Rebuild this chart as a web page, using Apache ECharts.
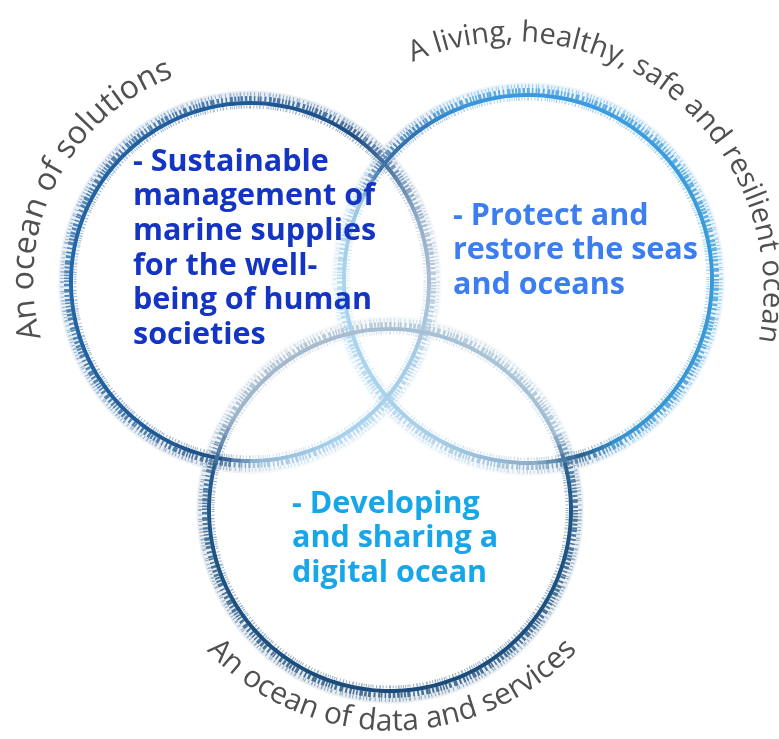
<!DOCTYPE html>
<html><head><meta charset="utf-8">
<script src="https://cdn.jsdelivr.net/npm/echarts@6/dist/echarts.min.js"></script>
<style>html,body{margin:0;padding:0;background:#fff}#main{width:779px;height:739px}</style>
</head><body><div id="main"></div>
<script>
// ---- data ----
const circleNames = ['An ocean of solutions', 'A living, healthy, safe and resilient ocean', 'An ocean of data and services'];
const circleCenterX = [250, 528, 390];
const circleCenterY = [282, 279, 510];
const circleRadius = [178, 183, 180];
const innerTexts = [
  ['- Sustainable', 'management of', 'marine supplies', 'for the well-', 'being of human', 'societies'],
  ['- Protect and', 'restore the seas', 'and oceans'],
  ['- Developing', 'and sharing a', 'digital ocean']
];
const curvedCenterX = [250, 513, 392];
const curvedCenterY = [280, 292, 476];
const curvedRadius = [226, 259, 246];
const curvedMidAngle = [207, 308.9, 90];
const curvedDirection = [1, 1, -1];

// ---- layout / style ----
const innerTextLeft = [133, 453, 292];
const innerTextFirstMid = [162, 216, 504];
const innerLineGap = 34.7;
const innerColors = ['#1434c4', '#3c7ef0', '#17a6e8'];
const innerFont = { fontFamily: '"Open Sans"', fontWeight: 'bold', fontSize: 30.5 };
const curvedFontSize = [32, 29, 30];
const curvedFont = { fontFamily: '"Open Sans"', fontWeight: 'normal', color: '#505050' };
const ringStops = [
  [[0,'#a9bfd3'],[30,'#a6cde8'],[60,'#a8d2ee'],[88,'#93b8d5'],[100,'#1e4f82'],[120,'#1f5a96'],[180,'#2567a6'],[270,'#1f5a98'],[305,'#1c4d85'],[325,'#5f84ab'],[340,'#94aec8'],[360,'#a9bfd3']],
  [[0,'#3a9ad8'],[60,'#3794d3'],[74,'#285f92'],[88,'#8aaecb'],[120,'#a7cde6'],[150,'#a9d3ee'],[180,'#a9d4ef'],[205,'#9cc5e1'],[218,'#3d72a8'],[232,'#2f74b5'],[250,'#3a96d9'],[300,'#3c9de0'],[360,'#3a9ad8']],
  [[0,'#1f5585'],[90,'#1a4a78'],[180,'#1f5585'],[193,'#2a5d8e'],[210,'#9db4c9'],[250,'#a9bccf'],[280,'#a7bfd2'],[310,'#a9c4d8'],[335,'#a0bcd2'],[346,'#2e6595'],[360,'#1f5585']]
];

function hexToRgb(h){ return [parseInt(h.substr(1,2),16), parseInt(h.substr(3,2),16), parseInt(h.substr(5,2),16)]; }
function rgbStr(c){ return 'rgb(' + c.map(v => Math.round(v)).join(',') + ')'; }
function colorAt(stops, a){
  a = ((a % 360) + 360) % 360;
  for (let k = 0; k < stops.length - 1; k++) {
    const s0 = stops[k], s1 = stops[k+1];
    if (a >= s0[0] && a <= s1[0]) {
      const t = (a - s0[0]) / (s1[0] - s0[0] || 1);
      const c0 = hexToRgb(s0[1]), c1 = hexToRgb(s1[1]);
      return c0.map((v, j) => v + (c1[j] - v) * t);
    }
  }
  return hexToRgb(stops[0][1]);
}
function mixWhite(c, t){ return c.map(v => v + (255 - v) * t); }
function lum(c){ return (0.299*c[0] + 0.587*c[1] + 0.114*c[2]) / 255; }

function renderRing(params, api){
  const i = api.value(3);
  const c = api.coord([api.value(0), api.value(1)]);
  const r = api.size([api.value(2), 0])[0];
  const children = [];
  const N = 120;
  for (let k = 0; k < N; k++) {
    const a0 = k * 360 / N, a1 = (k + 1) * 360 / N;
    const col = colorAt(ringStops[i], (a0 + a1) / 2);
    const dark = lum(col) < 0.55 ? 1 : 0;
    const s = a0 * Math.PI / 180, e = (a1 + 0.4) * Math.PI / 180;
    const base = {cx: c[0], cy: c[1], startAngle: s, endAngle: e, clockwise: true};
    const arc = (z2, dr, color, lw, dash) => children.push({type: 'arc', z2, shape: Object.assign({}, base, {r: r + dr}),
      style: {fill: 'none', stroke: rgbStr(color), lineWidth: lw, lineDash: dash || null}});
    // decorative texture pattern, varies with segment index
    const p1 = 1 + (k % 3) * 0.5, p2 = 1.3 + (k % 4) * 0.45;
    arc(1, 8, mixWhite(col, 0.9), 11);
    arc(2, 10, mixWhite(col, 0.5), 3.5, [1, p2 + 0.8]);
    arc(3 + dark, 5.5, mixWhite(col, 0.2), 5, [p1 + 0.6, p2]);
    arc(2, -3, mixWhite(col, 0.55), 3, [1, p2]);
    arc(5 + dark * 2, 1, col, 4);
  }
  return {type: 'group', children};
}

function renderInner(params, api){
  const i = api.value(2);
  const lines = innerTexts[i];
  const children = [];
  const gap = api.size([0, innerLineGap])[1];
  const p = api.coord([api.value(0), api.value(1)]);
  lines.forEach((ln, j) => {
    children.push({type: 'text', z2: 20, x: p[0], y: p[1] + j * gap,
      style: {text: ln, fill: innerColors[i], fontFamily: innerFont.fontFamily, fontWeight: innerFont.fontWeight,
        fontSize: innerFont.fontSize, align: 'left', verticalAlign: 'middle'}});
  });
  return {type: 'group', children};
}

const measureCtx = document.createElement('canvas').getContext('2d');
function renderCurved(params, api){
  const i = api.value(3);
  const text = circleNames[i];
  const fs = curvedFontSize[i];
  const c = api.coord([api.value(0), api.value(1)]);
  const R = api.size([api.value(2), 0])[0];
  const dir = curvedDirection[i];
  const Rb = R - dir * 0.3 * fs; // baseline radius along which glyphs advance
  measureCtx.font = curvedFont.fontWeight + ' ' + fs + 'px ' + curvedFont.fontFamily;
  const W = measureCtx.measureText(text).width;
  const mid = curvedMidAngle[i] * Math.PI / 180;
  const start = mid - dir * (W / 2) / Rb;
  const children = [];
  for (let k = 0; k < text.length; k++) {
    const ch = text[k];
    if (ch === ' ') continue;
    const w0 = measureCtx.measureText(text.slice(0, k)).width;
    const w1 = measureCtx.measureText(text.slice(0, k + 1)).width;
    const th = start + dir * ((w0 + w1) / 2) / Rb;
    const x = c[0] + R * Math.cos(th), y = c[1] + R * Math.sin(th);
    const rot = dir > 0 ? -(th + Math.PI / 2) : (Math.PI / 2 - th);
    children.push({type: 'text', z2: 20, x, y, rotation: rot,
      style: {text: ch, fill: curvedFont.color, fontFamily: curvedFont.fontFamily, fontWeight: curvedFont.fontWeight,
        fontSize: fs, align: 'center', verticalAlign: 'middle'}});
  }
  return {type: 'group', children};
}

const chart = echarts.init(document.getElementById('main'), null, {renderer: 'canvas'});
chart.setOption({
  backgroundColor: '#ffffff',
  animation: false,
  grid: {left: 0, right: 0, top: 0, bottom: 0},
  xAxis: {type: 'value', min: 0, max: 779, show: false},
  yAxis: {type: 'value', min: 0, max: 739, inverse: true, show: false},
  series: [
    {type: 'custom', name: 'rings', silent: true, renderItem: renderRing,
      data: circleNames.map((n, i) => [circleCenterX[i], circleCenterY[i], circleRadius[i], i])},
    {type: 'custom', name: 'topics', silent: true, renderItem: renderInner,
      data: innerTexts.map((t, i) => [innerTextLeft[i], innerTextFirstMid[i], i])},
    {type: 'custom', name: 'arcs', silent: true, renderItem: renderCurved,
      data: circleNames.map((n, i) => [curvedCenterX[i], curvedCenterY[i], curvedRadius[i], i])}
  ]
});
</script></body></html>
